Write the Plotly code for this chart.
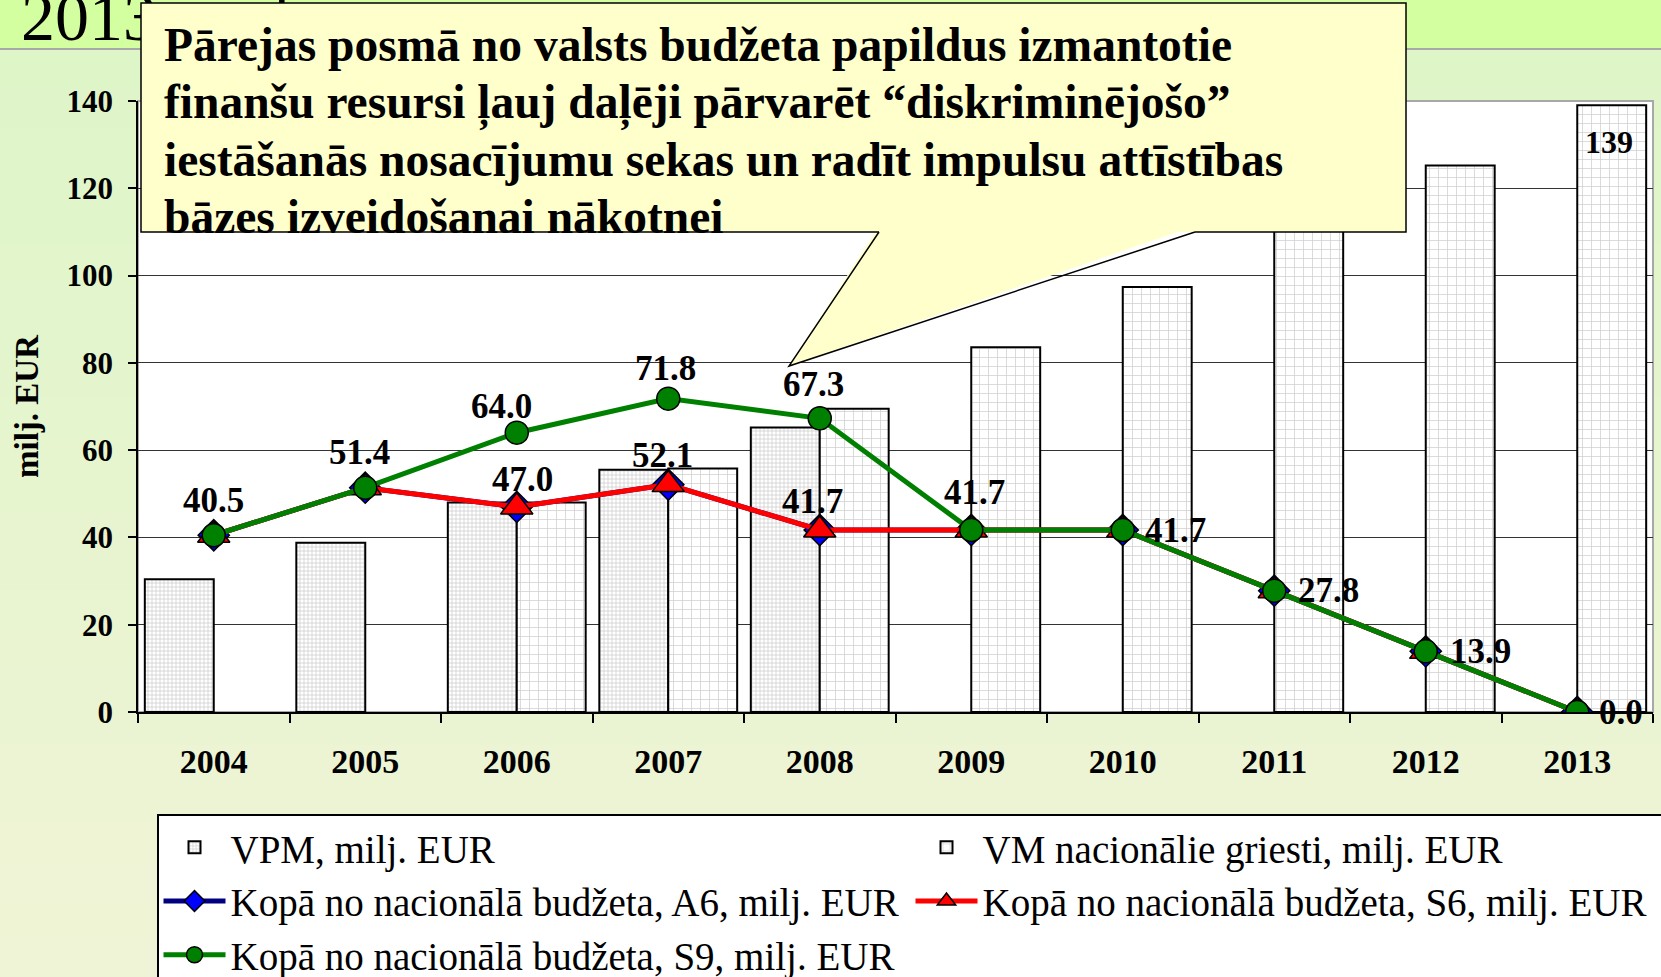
import plotly.graph_objects as go

# ---------------- data ----------------
years = ["2004", "2005", "2006", "2007", "2008", "2009", "2010", "2011", "2012", "2013"]
vpm = [30.4, 38.8, 48.0, 55.5, 65.2, None, None, None, None, None]
vm_ceiling = [None, None, 48.0, 55.8, 69.5, 83.6, 97.4, 111.3, 125.2, 139.0]
a6 = [40.5, 51.4, 47.0, 52.1, 41.7, 41.7, 41.7, 27.8, 13.9, 0.0]
s6 = [40.5, 51.4, 47.0, 52.1, 41.7, 41.7, 41.7, 27.8, 13.9, 0.0]
s9 = [40.5, 51.4, 64.0, 71.8, 67.3, 41.7, 41.7, 27.8, 13.9, 0.0]

names = [
    "VPM, milj. EUR",
    "VM nacionālie griesti, milj. EUR",
    "Kopā no nacionālā budžeta, A6, milj. EUR",
    "Kopā no nacionālā budžeta, S6, milj. EUR",
    "Kopā no nacionālā budžeta, S9, milj. EUR",
]
callout_lines = [
    "Pārejas posmā no valsts budžeta papildus izmantotie",
    "finanšu resursi ļauj daļēji pārvarēt “diskriminējošo”",
    "iestāšanās nosacījumu sekas un radīt impulsu attīstības",
    "bāzes izveidošanai nākotnei",
]
title_text = "2013. gads"
y_title = "milj. EUR"

# ---------------- geometry helpers (styles) ----------------
W, H = 1661, 977
L, T, PW, PH = 138, 101, 1515, 611
def px(x):
    return (x - L) / PW
def py(y):
    return (T + PH - y) / PH

FONT = "Liberation Serif"

fig = go.Figure()

fig.add_trace(go.Bar(
    x=years, y=vpm, name=names[0],
    marker=dict(color="white", line=dict(color="black", width=2),
                pattern=dict(shape="+", fgcolor="#8c8c8c", bgcolor="white", size=4, solidity=0.3)),
))
fig.add_trace(go.Bar(
    x=years, y=vm_ceiling, name=names[1],
    marker=dict(color="white", line=dict(color="black", width=2),
                pattern=dict(shape="+", fgcolor="#a0a0a0", bgcolor="white", size=9, solidity=0.16)),
))
fig.add_trace(go.Scatter(
    x=years, y=a6, name=names[2], mode="lines+markers",
    line=dict(color="#000080", width=5),
    marker=dict(symbol="diamond", size=24, color="#0000ff", line=dict(color="black", width=1.5)),
))
fig.add_trace(go.Scatter(
    x=years, y=s6, name=names[3], mode="lines+markers",
    line=dict(color="#ff0000", width=5),
    marker=dict(symbol="triangle-up", size=28, color="#ff0000", line=dict(color="black", width=1.5)),
))
fig.add_trace(go.Scatter(
    x=years, y=s9, name=names[4], mode="lines+markers",
    line=dict(color="#008000", width=5),
    marker=dict(symbol="circle", size=23, color="#008000", line=dict(color="black", width=1.5)),
))

# ---------------- data labels ----------------
lab_font = dict(family=FONT, size=35, color="black", weight="bold")
annotations = []
# S9 label placement (style): (xshift, yshift, xanchor)
s9_place = [(0, 35, "center"), (-6, 35, "center"), (-15, 26, "center"), (-3, 30, "center"),
            (-6, 34, "center"), (3, 38, "center"), (20, 0, "left"), (22, 0, "left"),
            (22, 0, "left"), (20, 0, "left")]
for i, v in enumerate(s9):
    dx, dy, xa = s9_place[i]
    annotations.append(dict(x=i, y=v, xref="x", yref="y", text=f"{v:.1f}",
                            showarrow=False, xshift=dx, yshift=dy, xanchor=xa, yanchor="middle",
                            font=lab_font))
s6_place = {2: (6, 27), 3: (-6, 29), 4: (-7, 29)}
for i, (dx, dy) in s6_place.items():
    annotations.append(dict(x=i, y=s6[i], xref="x", yref="y", text=f"{s6[i]:.1f}",
                            showarrow=False, xshift=dx, yshift=dy, xanchor="center", yanchor="middle",
                            font=lab_font))
annotations.append(dict(x=9, y=vm_ceiling[9], xref="x", yref="y", text=f"{vm_ceiling[9]:.0f}",
                        showarrow=False, xshift=32, yshift=-37, xanchor="center", yanchor="middle",
                        font=dict(family=FONT, size=32, color="black", weight="bold")))

# callout text
callout_html = "<br>".join(f'<span style="font-size:47.5px">{t}</span>' for t in callout_lines)
annotations.append(dict(x=px(162), y=py(17), xref="paper", yref="paper", xanchor="left", yanchor="top",
                        align="left", showarrow=False, text=callout_html,
                        font=dict(family=FONT, size=44.2, color="black", weight="bold")))

# ---------------- shapes (background & callout) ----------------
shapes = []
def lerp(a, b, t):
    return int(round(a + (b - a) * t))
c0, c1 = (222, 245, 200), (240, 244, 214)
nb = 24
for k in range(nb):
    y0p = 50 + (977 - 50) * k / nb
    y1p = 50 + (977 - 50) * (k + 1) / nb + 1
    t = k / (nb - 1)
    col = f"rgb({lerp(c0[0], c1[0], t)},{lerp(c0[1], c1[1], t)},{lerp(c0[2], c1[2], t)})"
    shapes.append(dict(type="rect", xref="paper", yref="paper", x0=px(-5), x1=px(W + 5),
                       y0=py(y1p), y1=py(y0p), fillcolor=col, line=dict(width=0), layer="below"))
shapes.append(dict(type="rect", xref="paper", yref="paper", x0=px(-5), x1=px(W + 5),
                   y0=py(48), y1=py(-5), fillcolor="#d4ffa0", line=dict(width=0), layer="below"))
shapes.append(dict(type="line", xref="paper", yref="paper", x0=px(-5), x1=px(W + 5),
                   y0=py(49), y1=py(49), line=dict(color="#a8a8a8", width=2), layer="below"))
shapes.append(dict(type="rect", xref="paper", yref="paper", x0=0, x1=1, y0=0, y1=1,
                   fillcolor="white", line=dict(color="#a8a8a8", width=2), layer="below"))

# slide title fragment (covered by callout)
shapes.append(dict(type="rect", xref="paper", yref="paper", x0=px(18), x1=px(700),
                   y0=py(48), y1=py(-60), fillcolor="rgba(0,0,0,0)", line=dict(width=0), layer="above",
                   label=dict(text=title_text, textposition="bottom left", padding=0,
                              font=dict(family=FONT, size=68, color="black"))))

yel = "#ffffcc"
shapes.append(dict(type="path", xref="paper", yref="paper",
                   path=f"M {px(879)},{py(226)} L {px(789)},{py(366)} L {px(1195)},{py(226)} Z",
                   fillcolor=yel, line=dict(width=0), layer="above"))
shapes.append(dict(type="rect", xref="paper", yref="paper", x0=px(141), x1=px(1406),
                   y0=py(232), y1=py(3), fillcolor=yel, line=dict(width=0), layer="above"))
shapes.append(dict(type="path", xref="paper", yref="paper",
                   path=(f"M {px(879)},{py(232)} L {px(141)},{py(232)} L {px(141)},{py(3)} "
                         f"L {px(1406)},{py(3)} L {px(1406)},{py(232)} L {px(1195)},{py(232)}"),
                   fillcolor="rgba(0,0,0,0)", line=dict(color="black", width=1.5), layer="above"))
shapes.append(dict(type="path", xref="paper", yref="paper",
                   path=f"M {px(879)},{py(232)} L {px(789)},{py(366)} L {px(1195)},{py(232)}",
                   fillcolor="rgba(0,0,0,0)", line=dict(color="black", width=1.5), layer="above"))

ytick_font = dict(family=FONT, size=31, color="black", weight="bold")
xtick_font = dict(family=FONT, size=34, color="black", weight="bold")
fig.update_layout(
    width=W, height=H, autosize=False,
    margin=dict(l=L, r=W - L - PW, t=T, b=H - T - PH, autoexpand=False),
    paper_bgcolor="#e6f4cf", plot_bgcolor="rgba(0,0,0,0)",
    font=dict(family=FONT, color="black"),
    barmode="group", bargap=0.09, bargroupgap=0,
    showlegend=True,
    legend=dict(orientation="h", x=px(157), y=py(814), xanchor="left", yanchor="top",
                bgcolor="white", bordercolor="black", borderwidth=1.5,
                font=dict(family=FONT, size=39, color="black"),
                itemwidth=62, entrywidth=675, traceorder="normal"),
    xaxis=dict(type="category", range=[-0.5, 9.5], showline=True, linecolor="black", linewidth=1.5,
               ticks="outside", tickson="boundaries", ticklen=9, tickcolor="black", tickwidth=1.5,
               tickfont=xtick_font, ticklabelstandoff=18, showgrid=False, zeroline=False),
    yaxis=dict(range=[0, 140], dtick=20, showline=True, linecolor="black", linewidth=1.5,
               ticks="outside", ticklen=8, tickcolor="black", tickwidth=1.5,
               tickfont=ytick_font, ticklabelstandoff=9,
               showgrid=True, gridcolor="#333333", gridwidth=1, zeroline=False,
               title=dict(text=y_title, font=dict(family=FONT, size=33, color="black", weight="bold"),
                          standoff=18)),
    annotations=annotations,
    shapes=shapes,
)

fig.write_html("out.html", config={"displayModeBar": False},
               post_script="document.body.style.margin='0px';")
